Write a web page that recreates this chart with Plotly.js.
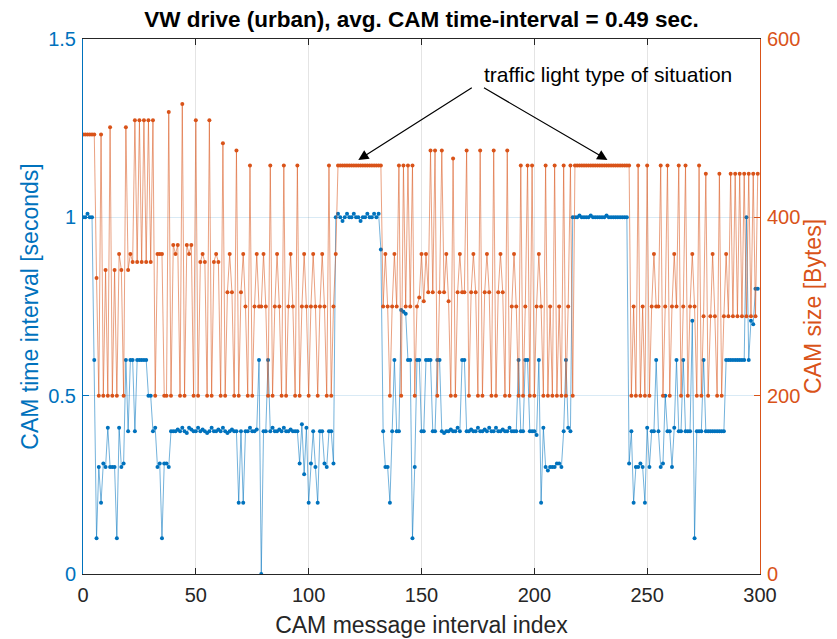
<!DOCTYPE html>
<html>
<head>
<meta charset="utf-8">
<script src="https://cdn.plot.ly/plotly-3.0.1.min.js"></script>
<style>html,body{margin:0;padding:0;background:#fff;}#chart{width:837px;height:639px;}</style>
</head>
<body>
<div id="chart"></div>
<script>
// CAM time interval [seconds], one value per message interval index
const camInterval = [
1.00,1.00,1.01,1.00,1.00,
0.60,0.10,0.30,0.20,0.31,0.30,0.41,0.30,0.30,0.30,0.10,0.41,0.30,0.31,0.60,0.40,0.60,0.60,0.40,0.60,0.60,0.60,0.60,0.60,0.50,0.50,0.40,0.41,0.30,0.31,0.10,0.31,0.31,0.30,0.40,
0.40,0.40,0.405,0.40,0.41,0.40,0.395,0.41,0.405,0.40,0.40,0.41,0.40,0.405,0.40,0.395,0.40,0.41,0.40,0.40,0.405,0.40,0.41,0.40,0.395,0.40,0.405,0.40,0.40,
0.20,0.40,0.20,0.40,
0.40,0.41,0.40,0.40,0.405,
0.60,0.00,0.40,0.40,0.60,0.40,
0.41,0.40,0.40,0.405,0.40,0.41,0.40,0.40,0.405,0.40,0.40,0.40,
0.31,0.42,0.28,0.41,0.20,0.31,0.40,0.30,0.20,0.40,0.40,0.31,0.30,0.40,0.40,0.31,
1.00,1.01,1.00,0.99,1.00,1.01,1.00,1.00,1.01,1.00,1.00,0.99,1.00,1.00,1.01,1.00,1.00,1.01,1.00,1.01,
0.91,0.40,0.30,0.30,0.20,0.40,0.60,0.40,0.40,0.74,0.735,0.73,0.60,0.60,0.10,0.30,0.60,0.60,0.40,0.40,0.60,0.60,0.60,0.40,0.40,0.60,0.60,0.40,
0.395,0.40,0.40,0.405,0.40,0.40,0.41,0.40,
0.60,0.60,
0.40,0.40,0.405,0.40,0.40,0.41,0.40,0.40,0.405,0.40,0.41,0.40,0.40,0.41,0.40,0.40,0.405,0.40,0.40,0.41,0.40,0.40,
0.40,0.60,0.40,0.40,0.60,0.60,0.40,0.40,0.40,0.39,0.60,0.20,0.41,
0.30,0.29,0.30,0.30,0.30,0.31,0.31,0.30,
0.40,0.60,0.41,0.40,1.00,
1.00,1.00,1.005,1.00,1.00,1.00,1.00,1.005,1.00,1.00,1.00,1.00,1.00,1.00,1.005,1.00,1.00,1.00,1.00,1.00,1.00,1.00,1.00,1.00,
0.31,0.40,0.20,0.30,0.30,0.31,0.30,0.20,0.41,0.30,0.40,0.40,0.60,0.40,0.30,0.31,0.50,0.40,0.40,0.30,0.41,0.60,0.40,0.40,0.60,0.40,0.40,0.40,0.71,0.10,
0.40,0.40,0.40,0.60,
0.40,0.40,0.40,0.40,0.40,0.40,0.40,0.40,0.40,
0.60,0.60,0.60,0.60,0.60,0.60,0.60,0.60,0.60,
1.00,0.60,0.71,0.70,0.80,0.80
];

// CAM size [Bytes]
const camSize = [
493,493,493,493,493,493,332,200,493,200,341,200,501,200,341,200,359,341,200,501,
341,359,350,509,350,509,350,509,350,509,350,509,200,359,359,359,200,200,518,200,
369,359,369,200,527,200,369,359,369,200,509,200,350,359,350,200,509,200,350,359,
350,200,483,200,316,359,316,200,475,200,316,359,300,200,458,200,300,359,300,300,
359,300,200,458,200,300,359,300,200,458,200,300,359,300,200,458,200,300,359,300,
200,300,359,300,200,300,359,300,200,458,200,300,359,
458,458,458,458,458,458,458,458,458,458,458,458,458,458,458,458,458,458,458,458,
300,359,300,200,300,359,300,458,200,458,300,458,300,458,200,300,310,
359,306,359,316,475,316,475,200,316,475,316,359,306,200,466,200,316,359,316,316,
475,200,316,359,316,200,475,200,316,359,316,
200,475,200,316,359,316,200,475,200,300,359,300,200,458,200,300,458,200,458,200,
300,359,300,200,458,200,300,200,458,200,300,200,458,200,300,458,200,
458,458,458,458,458,458,458,458,458,458,458,458,458,458,458,458,458,458,458,458,458,458,458,458,458,
200,300,200,458,200,300,200,458,200,300,359,300,300,458,200,300,458,200,300,359,
300,458,200,300,458,200,300,359,300,
200,458,200,289,449,200,289,359,289,200,449,200,289,359,289,449,289,449,289,449,
289,449,289,449,289,449,289,449
];

const xTicks = [0, 50, 100, 150, 200, 250, 300];
const yLeftTicks = [0, 0.5, 1, 1.5];
const yLeftLabels = ['0', '0.5', '1', '1.5'];
const yRightTicks = [0, 200, 400, 600];

const idx = camInterval.map((_, i) => i);

const BLUE = '#0072BD', ORANGE = '#D95319', DARK = '#262626';

const traces = [
  {
    x: idx, y: camSize, yaxis: 'y2', type: 'scatter', mode: 'lines+markers',
    line: {color: 'rgba(217,83,25,0.55)', width: 1},
    marker: {color: ORANGE, size: 4}, hoverinfo: 'skip'
  },
  {
    x: idx, y: camInterval, yaxis: 'y', type: 'scatter', mode: 'lines+markers',
    line: {color: 'rgba(0,114,189,0.55)', width: 1},
    marker: {color: BLUE, size: 4}, hoverinfo: 'skip'
  }
];

const layout = {
  width: 837, height: 639,
  margin: {l: 83, r: 77, t: 39, b: 65, pad: 0},
  paper_bgcolor: '#fff', plot_bgcolor: '#fff',
  font: {family: 'Arial, "Liberation Sans", sans-serif', color: DARK},
  showlegend: false,
  title: {
    text: '<b>VW drive (urban), avg. CAM time-interval = 0.49 sec.</b>',
    font: {size: 22.5, color: '#000'},
    x: 0.5, xanchor: 'center', xref: 'paper',
    y: 1 - 19/639, yref: 'container', yanchor: 'middle'
  },
  xaxis: {
    range: [0, 300], tickvals: xTicks, ticks: 'inside', ticklen: 6, tickcolor: DARK,
    showline: true, linecolor: DARK, linewidth: 1, mirror: 'ticks',
    showgrid: true, gridcolor: '#e4e4e4', gridwidth: 1, zeroline: false,
    tickfont: {size: 20, color: DARK}, ticklabelstandoff: 3,
    title: {text: 'CAM message interval index', font: {size: 23, color: DARK}, standoff: 11}
  },
  yaxis: {
    range: [0, 1.5], tickvals: yLeftTicks, ticktext: yLeftLabels, ticks: 'inside', ticklen: 6,
    tickcolor: BLUE, showline: true, linecolor: BLUE, linewidth: 1,
    showgrid: true, gridcolor: 'rgba(0,114,189,0.15)', zeroline: false,
    tickfont: {size: 20, color: BLUE}, ticklabelstandoff: 2,
    title: {text: 'CAM time interval [seconds]', font: {size: 23, color: BLUE}, standoff: 3}
  },
  yaxis2: {
    range: [0, 600], tickvals: yRightTicks, overlaying: 'y', side: 'right', ticks: 'inside', ticklen: 6,
    tickcolor: ORANGE, showline: true, linecolor: ORANGE, linewidth: 1,
    showgrid: false, zeroline: false,
    tickfont: {size: 20, color: ORANGE}, ticklabelstandoff: 2,
    title: {text: 'CAM size [Bytes]', font: {size: 23, color: ORANGE}, standoff: 4}
  },
  annotations: [
    {
      text: 'traffic light type of situation', xref: 'x', yref: 'y',
      x: 232.8, y: 1.401, showarrow: false, font: {size: 21, color: '#000'},
      xanchor: 'center', yanchor: 'middle'
    },
    {
      text: '', xref: 'x', yref: 'y', x: 122.0, y: 1.161,
      showarrow: true, ax: 115, ay: -73, axref: 'pixel', ayref: 'pixel',
      arrowhead: 2, arrowsize: 1.7, arrowwidth: 1.2, arrowcolor: '#000', standoff: 0
    },
    {
      text: '', xref: 'x', yref: 'y', x: 232.4, y: 1.161,
      showarrow: true, ax: -125, ay: -73, axref: 'pixel', ayref: 'pixel',
      arrowhead: 2, arrowsize: 1.7, arrowwidth: 1.2, arrowcolor: '#000', standoff: 0
    }
  ]
};

Plotly.newPlot('chart', traces, layout, {displayModeBar: false, staticPlot: true});
</script>
</body>
</html>
